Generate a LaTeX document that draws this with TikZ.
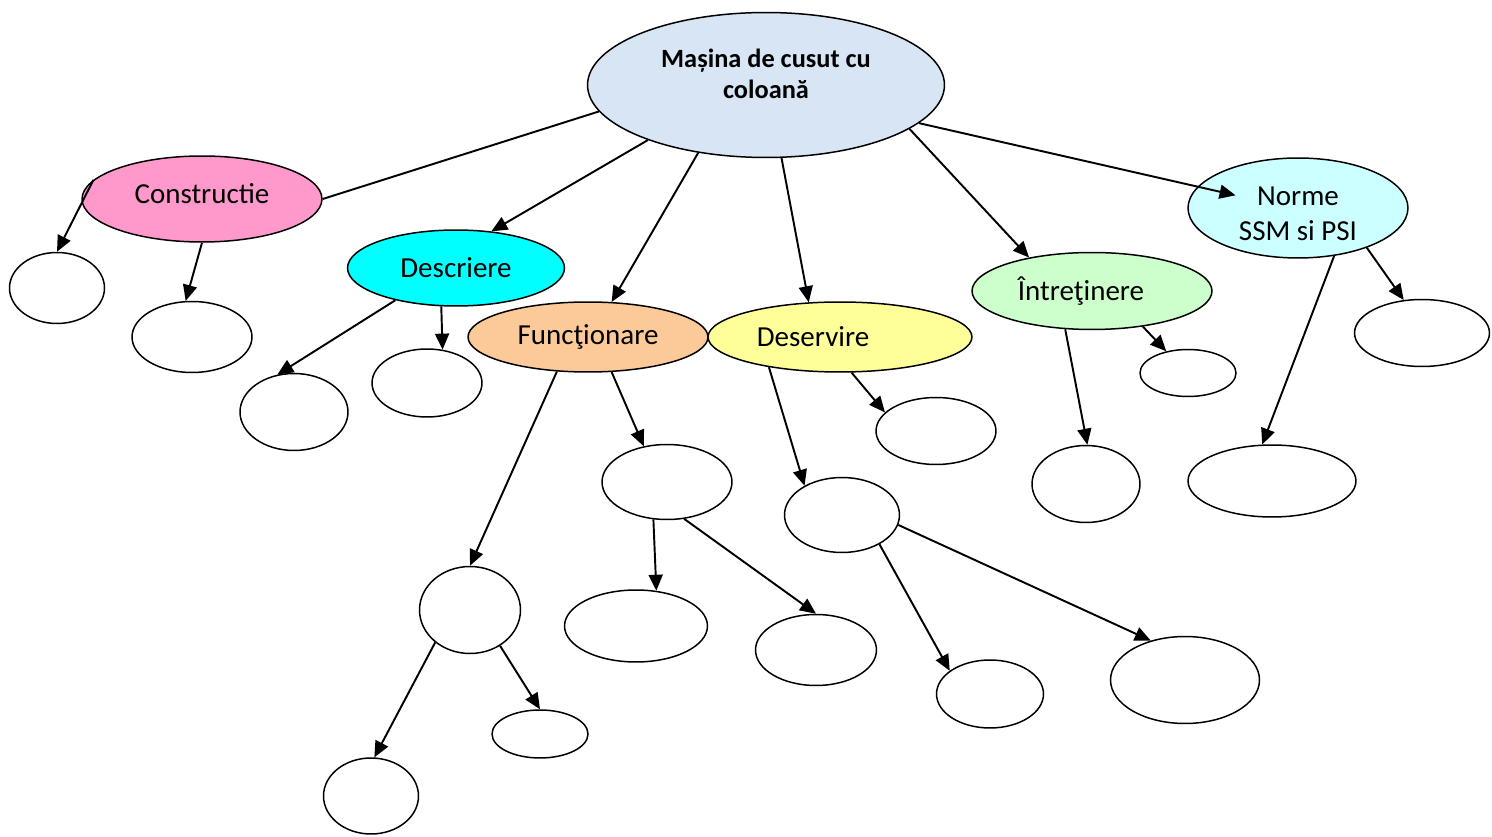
\documentclass[tikz,border=0pt]{standalone}
\usepackage{fontspec}
\setmainfont{Carlito}
\usetikzlibrary{shapes.geometric,arrows.meta}

\begin{document}
\begin{tikzpicture}[x=0.02cm, y=-0.02cm,
    word/.style={align=center, font=\fontsize{16.5}{20}\selectfont},
    bubble/.style={ellipse, draw=black, line width=0.85pt, inner sep=0pt, word},
    blank/.style={ellipse, draw=black, line width=0.85pt, fill=white, inner sep=0pt},
    link/.style={-{Triangle[length=3.2mm, width=2.8mm]}, line width=1.1pt}]
    % Define colors
    \definecolor{masinacolor}{RGB}{216, 229, 244}
    \definecolor{constrcolor}{RGB}{255, 153, 204}
    \definecolor{descrcolor}{RGB}{0, 255, 255}
    \definecolor{functcolor}{RGB}{252, 202, 152}
    \definecolor{deservcolor}{RGB}{255, 255, 153}
    \definecolor{intretcolor}{RGB}{204, 255, 204}
    \definecolor{normecolor}{RGB}{204, 255, 255}

    % Page
    \fill[white] (0,0) rectangle (1492,837);

    % Central ellipse
    \node[ellipse, draw=black, line width=0.85pt, fill=masinacolor, minimum width=7.14cm, minimum height=2.9cm] (masina) at (766,85) {};
    \node[align=center, font=\fontsize{15}{18}\selectfont\bfseries] (titlu) at (766,74) {Mașina de cusut cu\\coloană};

    % Main topics
    \node[bubble, fill=constrcolor, minimum width=4.8cm, minimum height=1.72cm,
        label={[word, yshift=0.11cm]center:Constructie}] (constr) at (202,199) {};
    \node[bubble, fill=descrcolor, minimum width=4.34cm, minimum height=1.52cm] (descr) at (456,268) {Descriere};
    \node[bubble, fill=functcolor, minimum width=4.8cm, minimum height=1.4cm] (funct) at (588,337) {Funcţionare};
    \node[bubble, fill=deservcolor, minimum width=5.28cm, minimum height=1.4cm,
        label={[word, xshift=-0.54cm]center:Deservire}] (deserv) at (840,337) {};
    \node[bubble, fill=intretcolor, minimum width=4.8cm, minimum height=1.54cm,
        label={[word, xshift=-0.22cm]center:Întreţinere}] (intret) at (1092,291) {};
    \node[bubble, fill=normecolor, minimum width=4.4cm, minimum height=2cm,
        label={[word, yshift=-0.12cm]center:Norme\\SSM si PSI}] (norme) at (1298,208) {};

    % Empty bubbles
    \node[blank, minimum width=1.9cm, minimum height=1.42cm] (c1) at (57,288) {};
    \node[blank, minimum width=2.4cm, minimum height=1.42cm] (c2) at (192,337) {};
    \node[blank, minimum width=2.16cm, minimum height=1.54cm] (d1) at (294,412) {};
    \node[blank, minimum width=2.2cm, minimum height=1.36cm] (d2) at (427,383) {};
    \node[blank, minimum width=2.6cm, minimum height=1.5cm] (f1) at (667,482) {};
    \node[blank, minimum width=2.02cm, minimum height=1.74cm] (f2) at (470,610) {};
    \node[blank, minimum width=2.86cm, minimum height=1.44cm] (f3) at (636,626) {};
    \node[blank, minimum width=2.42cm, minimum height=1.42cm] (f4) at (816,650) {};
    \node[blank, minimum width=1.9cm, minimum height=1.52cm] (f5) at (371,796) {};
    \node[blank, minimum width=1.92cm, minimum height=0.96cm] (f6) at (540,734) {};
    \node[blank, minimum width=2.4cm, minimum height=1.34cm] (s1) at (936,431) {};
    \node[blank, minimum width=2.3cm, minimum height=1.5cm] (s2) at (842,515) {};
    \node[blank, minimum width=2.14cm, minimum height=1.36cm] (s3) at (990,694) {};
    \node[blank, minimum width=2.98cm, minimum height=1.74cm] (s4) at (1185,680) {};
    \node[blank, minimum width=1.92cm, minimum height=0.94cm] (i1) at (1188,373) {};
    \node[blank, minimum width=2.16cm, minimum height=1.54cm] (i2) at (1086,484) {};
    \node[blank, minimum width=2.7cm, minimum height=1.34cm] (n1) at (1422,333) {};
    \node[blank, minimum width=3.36cm, minimum height=1.44cm] (n2) at (1272,481) {};

    % Links from the central ellipse
    \draw[line width=1.1pt] (masina.189) -- (constr.east);
    \draw[link] (masina.205) -- (descr.46);
    \draw[link] (masina.225) -- (funct.56);
    \draw[link] (masina.282) -- (deserv.132);
    \draw[link] (masina.343) -- (intret.152);
    \draw[link, shorten >=-0.78cm] (masina.346) -- (norme.168);

    % Links to the empty bubbles
    \draw[link] (constr.170) -- (c1.north);
    \draw[link] (constr.south) -- (c2.100);
    \draw[link] (descr.208) -- (d1.114);
    \draw[link] (descr.249) -- (d2.65);
    \draw[link] (funct.228) -- (f2.north);
    \draw[link] (funct.304) -- (f1.123);
    \draw[link] (f1.250) -- (f3.60);
    \draw[link] (f1.295) -- (f4.north);
    \draw[link] (f2.223) -- (f5.85);
    \draw[link] (f2.310) -- (f6.north);
    \draw[link] (deserv.288) -- (s1.160);
    \draw[link] (deserv.203) -- (s2.142);
    \draw[link] (s2.322) -- (s3.150);
    \draw[link] (s2.350) -- (s4.131);
    \draw[link] (intret.325) -- (i1.135);
    \draw[link] (intret.235) -- (i2.88);
    \draw[link] (norme.330) -- (n1.119);
    \draw[link] (norme.307) -- (n2.105);
\end{tikzpicture}
\end{document}
